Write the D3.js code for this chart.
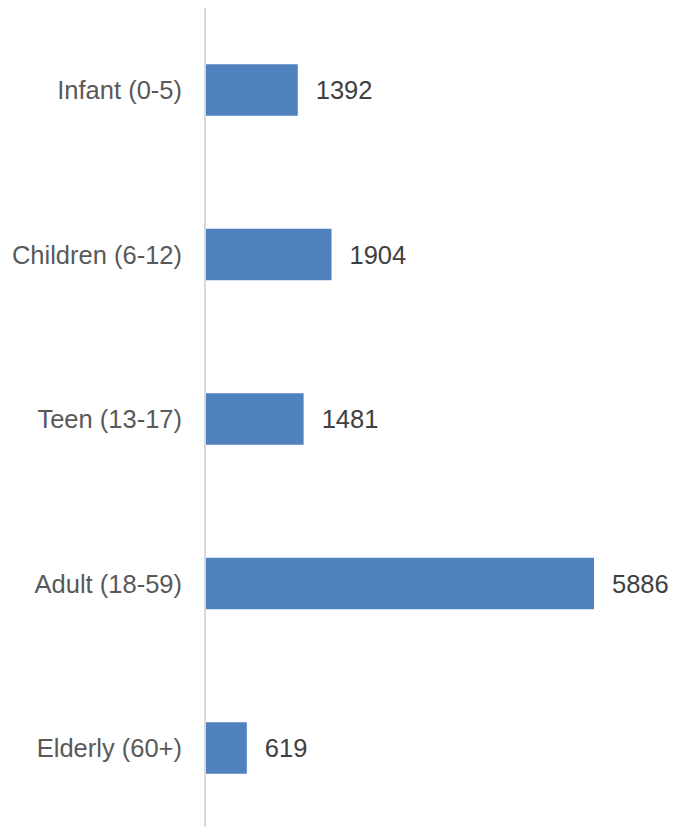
<!DOCTYPE html>
<html><head><meta charset="utf-8">
<script src="https://cdn.jsdelivr.net/npm/d3@7"></script>
<style>body{margin:0;background:#fff}svg{display:block}</style>
</head><body>
<script>
const categories = ["Infant (0-5)", "Children (6-12)", "Teen (13-17)", "Adult (18-59)", "Elderly (60+)"];
const values = [1392, 1904, 1481, 5886, 619];

const W = 675, H = 827;
const x0 = 206, y0 = 7.75, step = 164.5;
const svg = d3.select("body").append("svg").attr("width", W).attr("height", H);

const x = d3.scaleLinear().domain([0, 5886]).range([x0, 594]);
const y = d3.scaleBand().domain(categories).range([y0, y0 + step * 5])
  .paddingInner(0.687).paddingOuter(0.3435);

const data = categories.map((c, i) => ({c, v: values[i]}));

svg.selectAll("rect.bar").data(data).join("rect")
  .attr("class", "bar")
  .attr("x", x(0)).attr("y", d => y(d.c))
  .attr("width", d => x(d.v) - x(0)).attr("height", y.bandwidth())
  .attr("fill", "#4f81bd");

const font = "'Liberation Sans', Arial, sans-serif";

svg.selectAll("text.val").data(data).join("text")
  .attr("class", "val")
  .attr("x", d => x(d.v) + 18).attr("y", d => y(d.c) + y.bandwidth() / 2)
  .attr("dy", "0.36em")
  .attr("font-family", font).attr("font-size", 25.5).attr("fill", "#404040")
  .text(d => d.v);

const axis = d3.axisLeft(y).tickSize(0).tickPadding(23);
const g = svg.append("g").attr("transform", `translate(${x0 - 1},0)`).call(axis);
g.select(".domain").attr("stroke", "#d9d9d9").attr("stroke-width", 2)
  .attr("d", `M0,8V${H}`);
g.selectAll("text").attr("font-family", font).attr("font-size", 25.5)
  .attr("fill", "#595959").attr("dy", "0.36em");
</script>
</body></html>
